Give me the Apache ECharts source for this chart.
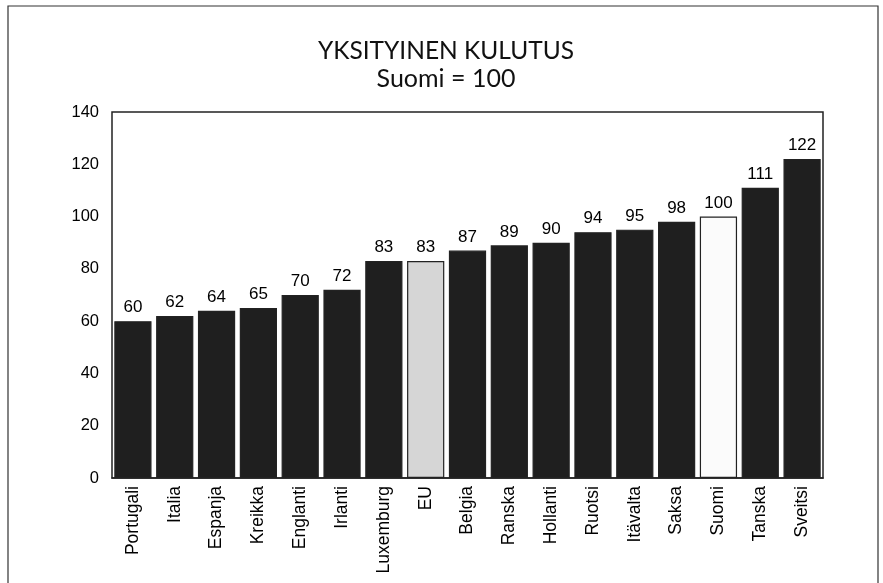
<!DOCTYPE html>
<html>
<head>
<meta charset="utf-8">
<script src="https://cdn.jsdelivr.net/npm/echarts@6/dist/echarts.min.js"></script>
<style>
  html, body { margin: 0; padding: 0; background: #fff; }
  #chart { width: 883px; height: 583px; }
</style>
</head>
<body>
<div id="chart"></div>
<script>
// maat ja indeksit (Suomi = 100)
const countries = ['Portugali', 'Italia', 'Espanja', 'Kreikka', 'Englanti', 'Irlanti', 'Luxemburg', 'EU',
  'Belgia', 'Ranska', 'Hollanti', 'Ruotsi', 'Itävalta', 'Saksa', 'Suomi', 'Tanska', 'Sveitsi']
const values = [60, 62, 64, 65, 70, 72, 83, 83, 87, 89, 90, 94, 95, 98, 100, 111, 122]
const yTicks = [0, 20, 40, 60, 80, 100, 120, 140]

const titleText = 'YKSITYINEN KULUTUS'
const subText = 'Suomi = 100'

// EU harmaana, Suomi valkoisena, muut tummina
function barColor(name) {
  if (name === 'EU') return '#d6d6d6'
  if (name === 'Suomi') return '#fbfbfb'
  return '#1f1f1f'
}

const chart = echarts.init(document.getElementById('chart'))

const option = {
  animation: false,
  backgroundColor: '#fff',
  title: [{
    text: titleText,
    left: 446,
    top: 39,
    textAlign: 'center',
    padding: 0,
    textStyle: { fontFamily: 'Lato', fontWeight: 'normal', fontSize: 24.5, color: '#111' }
  }, {
    text: subText,
    left: 446,
    top: 66,
    textAlign: 'center',
    padding: 0,
    textStyle: { fontFamily: 'Lato', fontWeight: 'normal', fontSize: 25, color: '#111' }
  }],
  graphic: [{
    type: 'rect',
    shape: { x: 8, y: 6, width: 870, height: 620 },
    style: { fill: 'none', stroke: '#333', lineWidth: 1.2 },
    silent: true
  }],
  grid: {
    left: 112,
    right: 883 - 823,
    top: 112,
    bottom: 583 - 478,
    show: true,
    borderColor: '#222',
    borderWidth: 1.5
  },
  xAxis: {
    type: 'category',
    data: countries,
    axisLine: { show: true, lineStyle: { color: '#222', width: 1.5 } },
    axisTick: { show: false },
    axisLabel: {
      rotate: 90,
      interval: 0,
      margin: 8,
      fontFamily: 'Liberation Sans',
      fontSize: 17.5,
      color: '#000'
    }
  },
  yAxis: {
    type: 'value',
    min: yTicks[0],
    max: yTicks[yTicks.length - 1],
    interval: 20,
    axisLine: { show: false },
    axisTick: { show: false },
    splitLine: { show: false },
    axisLabel: {
      margin: 13,
      padding: [8, 0, 0, 0],
      fontFamily: 'Liberation Sans',
      fontSize: 16.5,
      color: '#000'
    }
  },
  series: [{
    type: 'bar',
    data: values.map((v, i) => ({
      value: v,
      itemStyle: { color: barColor(countries[i]) }
    })),
    barCategoryGap: '11%',
    itemStyle: { borderColor: '#222', borderWidth: 1.2 },
    label: {
      show: true,
      position: 'top',
      distance: 5,
      fontFamily: 'Liberation Sans',
      fontSize: 17,
      color: '#000'
    }
  }]
}

chart.setOption(option)
</script>
</body>
</html>
